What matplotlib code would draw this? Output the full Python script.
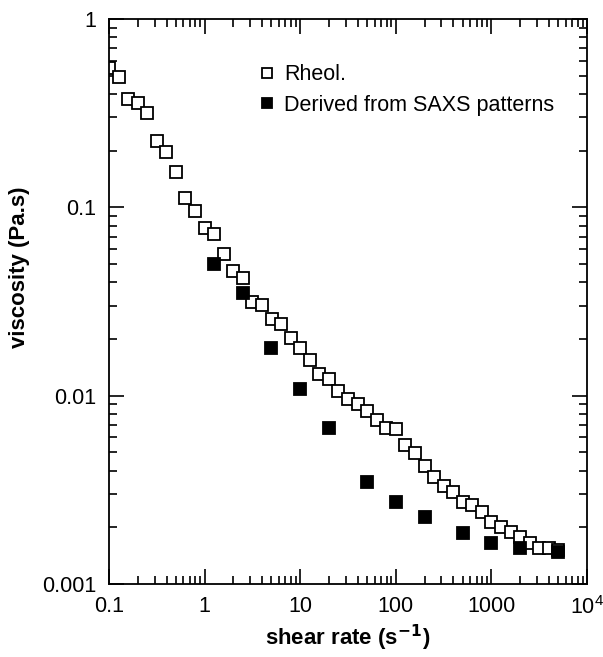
import matplotlib
matplotlib.use("Agg")
import matplotlib.pyplot as plt
from matplotlib.ticker import FixedLocator, FixedFormatter, LogLocator, NullFormatter

plt.rcParams.update({
    "font.family": ["Liberation Sans", "DejaVu Sans"],
    "mathtext.fontset": "custom",
    "mathtext.rm": "Liberation Sans",
    "font.size": 15.5,
    "axes.linewidth": 1.3,
})

# Rheometer data (shear rate in 1/s, viscosity in Pa.s)
rheol_rate = [0.1, 0.126, 0.158, 0.2, 0.251, 0.316, 0.398, 0.501, 0.631, 0.794,
              1.0, 1.26, 1.58, 2.0, 2.51, 3.16, 3.98, 5.01, 6.31, 7.94,
              10, 12.6, 15.8, 20, 25.1, 31.6, 39.8, 50.1, 63.1, 79.4,
              100, 126, 158, 200, 251, 316, 398, 501, 631, 794,
              1000, 1259, 1585, 1995, 2512, 3162, 3981, 5012]
rheol_visc = [0.55, 0.49, 0.376, 0.358, 0.317, 0.225, 0.197, 0.154, 0.112, 0.0955,
              0.0777, 0.0722, 0.0565, 0.0459, 0.0421, 0.0314, 0.0303, 0.0255, 0.024, 0.0202,
              0.0179, 0.0155, 0.0130, 0.0122, 0.0106, 0.0096, 0.0090, 0.0083, 0.0074, 0.0067,
              0.00665, 0.00547, 0.00496, 0.00423, 0.0037, 0.00331, 0.00308, 0.00272, 0.00262, 0.00241,
              0.00213, 0.0020, 0.00189, 0.00177, 0.00165, 0.00155, 0.00155, 0.00151]

# Viscosity derived from SAXS patterns
saxs_rate = [1.25, 2.5, 5, 10, 20, 50, 100, 200, 500, 1000, 2000, 5000]
saxs_visc = [0.050, 0.0351, 0.0179, 0.0108, 0.0067, 0.00348, 0.00272, 0.00226,
             0.00186, 0.00165, 0.00155, 0.00148]

x_ticks = [0.1, 1, 10, 100, 1000, 10000]
x_labels = ["0.1", "1", "10", "100", "1000", r"$10^4$"]
y_ticks = [0.001, 0.01, 0.1, 1]
y_labels = ["0.001", "0.01", "0.1", "1"]

fig = plt.figure(figsize=(6.03, 6.57), dpi=100)
ax = fig.add_axes([109 / 603, 1 - 584 / 657, 478 / 603, 565 / 657])

ax.plot(rheol_rate, rheol_visc, ls="none", marker="s", ms=8.5, mfc="white",
        mec="black", mew=1.3, label="Rheol.", zorder=2)
ax.plot(saxs_rate, saxs_visc, ls="none", marker="s", ms=8.5, mfc="black",
        mec="black", mew=1.3, label="Derived from SAXS patterns", zorder=3)

ax.set_xscale("log")
ax.set_yscale("log")
ax.set_xlim(0.1, 1e4)
ax.set_ylim(0.001, 1)

ax.xaxis.set_major_locator(FixedLocator(x_ticks))
ax.xaxis.set_major_formatter(FixedFormatter(x_labels))
ax.yaxis.set_major_locator(FixedLocator(y_ticks))
ax.yaxis.set_major_formatter(FixedFormatter(y_labels))
ax.xaxis.set_minor_locator(LogLocator(base=10, subs=range(2, 10), numticks=20))
ax.yaxis.set_minor_locator(LogLocator(base=10, subs=range(2, 10), numticks=20))
ax.xaxis.set_minor_formatter(NullFormatter())
ax.yaxis.set_minor_formatter(NullFormatter())

ax.tick_params(which="both", direction="in", top=True, right=True, width=1.2)
ax.tick_params(which="major", length=11)
ax.tick_params(which="minor", length=6)
ax.tick_params(axis="x", which="major", pad=9)
ax.tick_params(axis="y", which="major", pad=9)

ax.set_xlabel(r"shear rate (s$^{\mathbf{-1}}$)", fontweight="bold", fontsize=16)
ax.set_ylabel("viscosity (Pa.s)", fontweight="bold", fontsize=16)
ax.xaxis.set_label_coords(0.5, -0.068)
ax.yaxis.set_label_coords(-0.165, 0.56)

ax.legend(loc="upper left", bbox_to_anchor=(0.295, 0.935), frameon=False,
          handlelength=0.8, handletextpad=0.4, labelspacing=0.45,
          borderaxespad=0, fontsize=15.5, markerscale=0.85)

fig.savefig("out.png", dpi=100)
